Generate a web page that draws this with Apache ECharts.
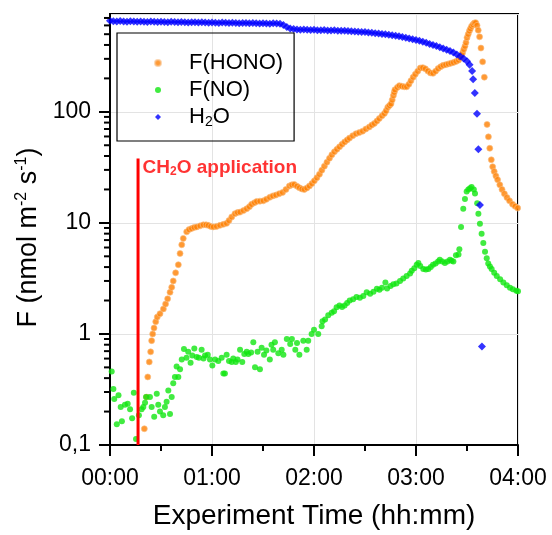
<!DOCTYPE html>
<html>
<head>
<meta charset="utf-8">
<script src="https://cdn.jsdelivr.net/npm/echarts@6/dist/echarts.min.js"></script>
<style>
  html, body { margin: 0; padding: 0; background: #fff; }
  #chart { width: 552px; height: 535px; }
</style>
</head>
<body>
<div id="chart"></div>
<script>
// time in minutes since start, flux in nmol m-2 s-1
const honoData = [
  [20.2,0.14],[21.5,0.27],[22.2,0.41],[23.1,0.56],[23.9,0.69],[24.5,0.87],[25.1,1.0],[25.9,1.13],
  [26.9,1.29],[27.8,1.42],[29.4,1.52],[31.4,1.68],[32.7,1.86],[33.9,2.07],[35.3,2.37],[36.3,2.63],
  [37.2,3.0],[38.6,3.55],[40.2,4.2],[41.2,5.3],[42.2,6.35],[43.1,7.25],[45.1,8.3],[46.5,8.7],
  [48,8.9],[49.5,9.1],[51,9.2],[53,9.4],[54.9,9.6],[56.5,9.6],[57.8,9.5],[59.3,9.3],[60.8,9.2],
  [62.7,9.3],[64.7,9.5],[66.7,9.7],[68.6,9.9],[70,10.5],[71.6,11.3],[73.5,12.1],[75,12.4],
  [76.5,12.5],[78.5,12.9],[80.4,13.4],[82,14],[83.3,14.7],[85,15.2],[86.3,15.6],[88.2,15.7],
  [90.2,15.8],[92,16.3],[94,17],[95.8,17.5],[97.6,17.8],[99.5,18.3],[101.5,18.8],[103.5,20],
  [105.5,21.5],[107,22],[108.4,22.2],[110,21.4],[111.4,20.7],[112.9,20.2],[114.3,20],[115.8,20.6],
  [117.3,21.5],[118.8,22.6],[120.2,23.9],[121.7,25.5],[123.2,27.4],[124.6,29.8],[126.1,32.4],
  [127.6,35.2],[129.1,38.2],[130.5,41],[132,43.7],[133.5,46],[135,48.4],[136.5,51],[138,53.5],
  [139.5,55.8],[140.9,58],[142.8,61],[144.7,63.5],[146.6,65],[148.6,67],[150.5,70],[152.5,73],
  [154,76],[155.5,78.6],[157,82.5],[158.4,87],[160,92],[161.4,96.6],[162.4,102],[163.4,110],
  [164.4,114],[165.3,118],[166,128],[166.7,140],[167.2,150],[167.6,158],[169,166],[170.2,172],
  [171.6,170],[173.1,168],[174.5,168],[175.8,177],[177,190],[178.3,205],[179.6,218],[181,232],
  [182.5,248],[184,250],[185.5,244],[187,233],[188.5,224],[190,222],[191.5,232],[193,245],
  [194.5,255],[196,262],[197.5,266],[199,270],[200.5,274],[202,278],[203.5,284],[205,292],
  [205.9,305],[206.7,320],[207.4,340],[208.1,365],[208.8,390],[209.4,420],[210,465],[210.7,500],
  [211.4,535],[212,560],[212.7,590],[213.5,610],[214.3,630],[215.1,635],[215.9,600],[216.6,543],
  [217.4,473],[218.2,375],[219.2,282],[220.2,205],[221.8,77],[222.6,59.5],[223.4,47],[224.3,37],
  [225.1,32],[226,29],[227,26.5],[228,24.5],[229.3,22],[230.6,20],[232,18.3],[233.5,16.9],
  [235,15.8],[236.8,14.7],[238.3,14.1],[239.8,13.6]
];

const noData = [
  [1,0.46],[2,0.32],[2.5,0.26],[4,0.154],[5,0.28],[6.3,0.22],[7,0.164],[8.8,0.23],[10.4,0.235],
  [11.8,0.21],[13,0.174],[14,0.295],[15.3,0.113],[17,0.185],[18.6,0.21],[19.6,0.22],[20.6,0.24],
  [21.2,0.27],[23.5,0.27],[24.5,0.22],[26,0.18],[27.5,0.29],[28.4,0.23],[29.4,0.2],[31.3,0.185],
  [32.3,0.22],[33.3,0.245],[34.3,0.31],[35.3,0.19],[36.3,0.27],[37.2,0.36],[38.2,0.41],[39.2,0.51],
  [40.2,0.41],[41.2,0.48],[42.2,0.59],[43.5,0.73],[45,0.61],[46,0.69],[47.4,0.55],[48.4,0.64],
  [49.6,0.74],[51,0.62],[52.3,0.61],[53.9,0.72],[55,0.6],[55.9,0.64],[57.5,0.65],[58.8,0.59],
  [60.2,0.52],[61.8,0.59],[63.7,0.57],[65.7,0.61],[66.7,0.44],[67.6,0.44],[68.6,0.65],[70,0.57],
  [71.6,0.56],[72.5,0.6],[74,0.56],[75,0.59],[76.5,0.72],[77.8,0.56],[79,0.66],[80.4,0.69],
  [81.4,0.66],[83,0.68],[84.3,0.84],[85.3,0.5],[86.8,0.69],[88.2,0.48],[89.2,0.75],[90.6,0.65],
  [92,0.71],[94,0.59],[95,0.8],[96,0.72],[97,0.84],[99,0.67],[101,0.72],[102,0.65],[104,0.9],
  [106,0.81],[107,0.9],[109,0.72],[110,0.83],[111.4,0.65],[113.7,0.87],[115.7,0.72],[116.6,0.87],
  [118.6,1.0],[120,1.09],[122.5,1.0],[124.5,1.17],[125,1.3],[126.5,1.35],[128.4,1.47],[130.4,1.55],
  [131.8,1.6],[133.3,1.74],[135,1.8],[136.5,1.75],[138,1.8],[139.5,1.9],[141,2.0],[143,2.05],
  [145,2.15],[147,2.12],[149,2.2],[151,2.37],[153,2.3],[155,2.4],[157,2.55],[158.5,2.5],[160,2.6],
  [162,2.9],[163,2.57],[165,2.7],[166.7,2.8],[168.5,2.85],[170.6,3.0],[172.5,3.15],[174.5,3.33],
  [176.5,3.5],[177.5,3.7],[179,3.9],[180.4,4.2],[181.4,4.35],[182.5,4.1],[184.3,3.84],[185.8,3.8],
  [187.3,3.84],[188.7,4.0],[190,4.2],[191.5,4.3],[193,4.5],[194,4.66],[195.5,4.5],[197,4.35],
  [198.5,4.5],[200,4.66],[201,4.55],[202,4.5],[203.5,5.1],[205,5.2],[205.5,5.8],[206.5,9.2],
  [207.8,13.4],[208.8,16.4],[209.8,19.2],[210.8,20],[211.8,20.5],[212.7,21],[214,20],[214.7,18.4],
  [216,15],[216.7,12.1],[217.6,9.8],[218.6,8.0],[219.6,6.6],[220.6,5.5],[221.6,4.8],[222.5,4.3],
  [223.5,4.05],[224.5,3.84],[226,3.55],[227.5,3.33],[229.5,3.1],[231.4,2.9],[233.4,2.75],
  [235.3,2.6],[237,2.52],[239,2.45],[240,2.42]
];

const h2oData = [
  [0,660],[2,655],[4,650],[6,658],[8,652],[10,648],[12,655],[14,650],[16,646],[18,652],[20,648],
  [22,645],[24,650],[26,647],[28,643],[30,648],[32,645],[34,641],[36,646],[38,643],[40,640],
  [42,644],[44,641],[46,638],[48,642],[50,639],[52,636],[54,640],[56,637],[58,634],[60,638],
  [62,635],[64,632],[66,636],[68,633],[70,630],[72,634],[74,631],[76,628],[78,632],[80,629],
  [82,626],[84,630],[86,627],[88,624],[90,628],[92,625],[94,622],[96,626],[98,623],[100,620],
  [102,605],[104,580],[106,562],[108,556],[110,552],[112,549],[114,551],[116,547],[118,545],
  [120,548],[122,544],[124,542],[126,545],[128,541],[130,539],[132,542],[134,538],[136,536],
  [138,538],[140,535],[142,532],[144,530],[146,527],[148,524],[150,522],[152,518],[154,515],
  [156,511],[158,507],[160,503],[162,499],[164,494],[166,489],[168,484],[170,478],[172,472],
  [174,465],[176,458],[178,451],[180,444],[182,436],[184,427],[186,418],[188,409],[190,400],
  [192,391],[194,382],[196,372],[198,363],[200,353],[202,342],[204,329],[206,316],[208,302],
  [210,285],[211.5,265],[213,233],[213.6,196],[214.6,148],[215.9,96],[216.7,46],[217.6,14.5],
  [218.8,0.77]
];

// vertical marker for CH2O application
const applicationLine = [[16.5, 0.1], [16.5, 38]];

const logMinorTicks = [0.2,0.3,0.4,0.5,0.6,0.7,0.8,0.9,2,3,4,5,6,7,8,9,20,30,40,50,60,70,80,90,200,300,400,500,600,700];

const FONT = 'Liberation Sans, Arial, sans-serif';
const pad = n => (n < 10 ? '0' : '') + n;

const chart = echarts.init(document.getElementById('chart'), null, { renderer: 'canvas' });

chart.setOption({
  animation: false,
  textStyle: { fontFamily: FONT },
  grid: {
    left: 110, right: 34, top: 14, bottom: 83,
    show: true, borderColor: '#000', borderWidth: 2, backgroundColor: 'transparent'
  },
  legend: {
    data: [
      { name: 'F(HONO)', icon: 'circle' },
      { name: 'F(NO)', icon: 'circle' },
      { name: 'H2O', icon: 'diamond' }
    ],
    orient: 'vertical',
    left: 117, top: 33,
    padding: [19, 11, 12, 37],
    itemGap: 5,
    itemWidth: 6, itemHeight: 6,
    borderColor: '#000', borderWidth: 1.2,
    selectedMode: false,
    formatter: name => '{g| }' + (name === 'H2O' ? '{n|H}{s|2}{n|O}' : '{n|' + name + '}'),
    textStyle: {
      rich: {
        g: { width: 23, fontSize: 10, lineHeight: 24 },
        n: { fontSize: 22, lineHeight: 24, color: '#000', fontFamily: FONT },
        s: { fontSize: 14, lineHeight: 14, color: '#000', verticalAlign: 'bottom', fontFamily: FONT }
      }
    }
  },
  xAxis: {
    type: 'value', min: 0, max: 240, interval: 60,
    name: 'Experiment Time (hh:mm)',
    nameLocation: 'middle', nameGap: 57,
    nameTextStyle: { fontSize: 28, color: '#000', fontFamily: FONT },
    axisLine: { lineStyle: { color: '#000', width: 2 } },
    axisTick: { inside: false, length: 11, lineStyle: { color: '#000', width: 2 } },
    minorTick: { show: true, splitNumber: 2, length: 6, lineStyle: { color: '#000', width: 2 } },
    axisLabel: {
      fontSize: 23, color: '#000', margin: 22, fontFamily: FONT,
      formatter: v => pad(Math.floor(v / 60)) + ':' + pad(v % 60)
    },
    splitLine: { show: true, lineStyle: { color: '#e3e3e3', width: 1 } }
  },
  yAxis: {
    type: 'log', logBase: 10, min: 0.1, max: 760,
    name: '{n|F (nmol m}{p|-2}{n| s}{p|-1}{n|)}{g| }',
    nameLocation: 'middle', nameGap: 66, nameRotate: 90,
    nameTextStyle: {
      rich: {
        n: { fontSize: 27, lineHeight: 30, color: '#000', fontFamily: FONT },
        p: { fontSize: 16, lineHeight: 16, color: '#000', verticalAlign: 'top', fontFamily: FONT },
        g: { width: 16, fontSize: 10, lineHeight: 30 }
      }
    },
    axisLine: { show: true, lineStyle: { color: '#000', width: 2 } },
    axisTick: { inside: false, length: 11, lineStyle: { color: '#000', width: 2 } },
    axisLabel: {
      fontSize: 23, color: '#000', margin: 19, fontFamily: FONT, showMaxLabel: false,
      formatter: v => {
        const l = Math.log10(v);
        if (Math.abs(l - Math.round(l)) > 1e-6) return '';
        return v < 1 ? String(v).replace('.', ',') : String(Math.round(v));
      }
    },
    splitLine: { show: true, lineStyle: { color: '#e3e3e3', width: 1 } }
  },
  series: [
    {
      type: 'custom', name: 'minorLog', silent: true, clip: false, z: 5,
      data: logMinorTicks.map(v => [0, v]),
      renderItem: (params, api) => {
        const p = api.coord([0, api.value(1)]);
        return {
          type: 'line',
          shape: { x1: p[0] - 6, y1: p[1], x2: p[0], y2: p[1] },
          style: { stroke: '#000', lineWidth: 2 }
        };
      }
    },
    {
      name: 'F(HONO)', type: 'scatter', data: honoData, symbol: 'circle', symbolSize: 6,
      itemStyle: { color: '#ff7f00', borderColor: 'rgba(248,190,130,0.8)', borderWidth: 1 }
    },
    {
      name: 'F(NO)', type: 'scatter', data: noData, symbol: 'circle', symbolSize: 6,
      itemStyle: { color: '#11e611' }
    },
    {
      name: 'H2O', type: 'scatter', data: h2oData, symbol: 'diamond', symbolSize: 8,
      itemStyle: { color: '#0000ff' }
    },
    {
      type: 'line', name: 'application', data: applicationLine, symbol: 'none',
      lineStyle: { color: '#ff0000', width: 3 }, z: 10
    },
    {
      type: 'scatter', name: 'applicationLabel', data: [applicationLine[1]],
      symbolSize: 1, itemStyle: { color: 'transparent' }, z: 10,
      label: {
        show: true, position: 'right', distance: 4, offset: [0, 9],
        formatter: () => '{r|CH}{s|2}{r|O application}',
        rich: {
          r: { fontSize: 19, fontWeight: 'bold', color: '#ff0000', lineHeight: 21, fontFamily: FONT },
          s: { fontSize: 12, fontWeight: 'bold', color: '#ff0000', lineHeight: 12, verticalAlign: 'bottom', fontFamily: FONT }
        }
      }
    }
  ]
});
</script>
</body>
</html>
